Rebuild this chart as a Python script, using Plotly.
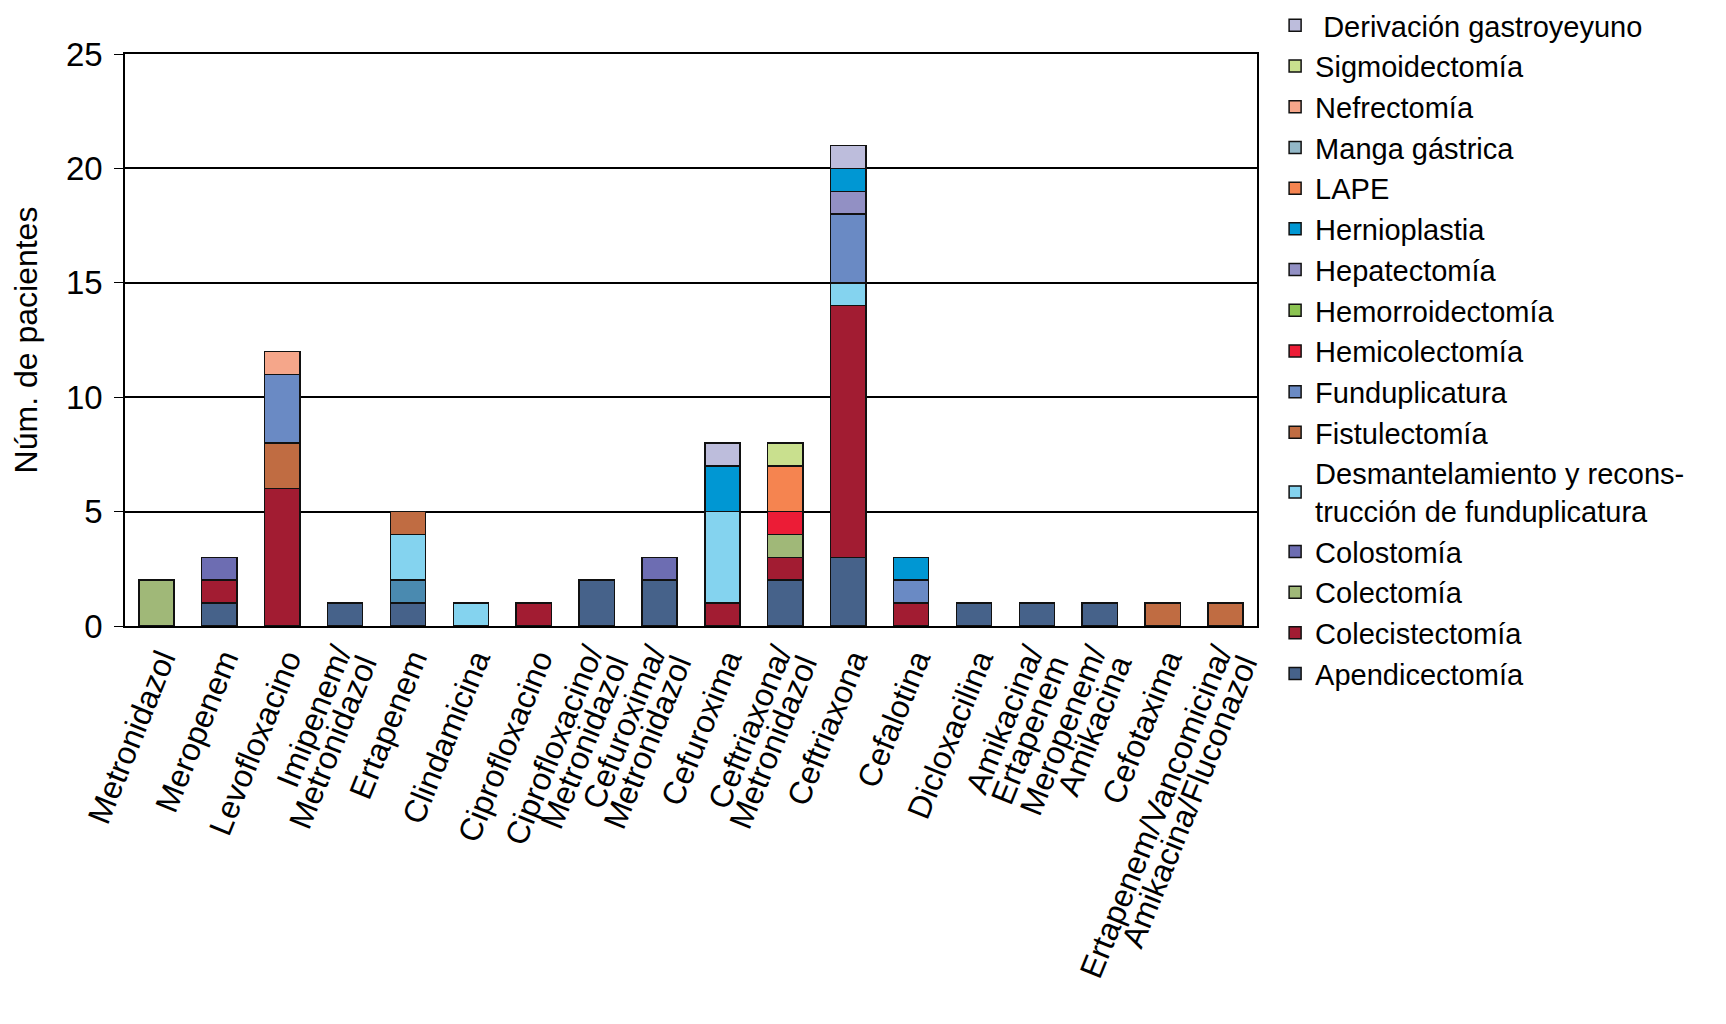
import plotly.graph_objects as go

categories = [
    "Metronidazol", "Meropenem", "Levofloxacino", "Imipenem/<br>Metronidazol",
    "Ertapenem", "Clindamicina", "Ciprofloxacino", "Ciprofloxacino/<br>Metronidazol",
    "Cefuroxima/<br>Metronidazol", "Cefuroxima", "Ceftriaxona/<br>Metronidazol",
    "Ceftriaxona", "Cefalotina", "Dicloxacilina", "Amikacina/<br>Ertapenem",
    "Meropenem/<br>Amikacina", "Cefotaxima",
    "Ertapenem/Vancomicina/<br>Amikacina/Fluconazol",
]

# values per procedure, one per category (order above)
apendicectomia     = [0, 1, 0, 1, 1, 0, 0, 2, 2, 0, 2, 3, 0, 1, 1, 1, 0, 0]
colecistectomia    = [0, 1, 6, 0, 0, 0, 1, 0, 0, 1, 1, 11, 1, 0, 0, 0, 0, 0]
colectomia         = [2, 0, 0, 0, 0, 0, 0, 0, 0, 0, 1, 0, 0, 0, 0, 0, 0, 0]
colostomia         = [0, 1, 0, 0, 0, 0, 0, 0, 1, 0, 0, 0, 0, 0, 0, 0, 0, 0]
manga_gastrica     = [0, 0, 0, 0, 1, 0, 0, 0, 0, 0, 0, 0, 0, 0, 0, 0, 0, 0]
desmantelamiento   = [0, 0, 0, 0, 2, 1, 0, 0, 0, 4, 0, 1, 0, 0, 0, 0, 0, 0]
fistulectomia      = [0, 0, 2, 0, 1, 0, 0, 0, 0, 0, 0, 0, 0, 0, 0, 0, 1, 1]
funduplicatura     = [0, 0, 3, 0, 0, 0, 0, 0, 0, 0, 0, 3, 1, 0, 0, 0, 0, 0]
hemicolectomia     = [0, 0, 0, 0, 0, 0, 0, 0, 0, 0, 1, 0, 0, 0, 0, 0, 0, 0]
hemorroidectomia   = [0, 0, 0, 0, 0, 0, 0, 0, 0, 0, 0, 0, 0, 0, 0, 0, 0, 0]
hepatectomia       = [0, 0, 0, 0, 0, 0, 0, 0, 0, 0, 0, 1, 0, 0, 0, 0, 0, 0]
hernioplastia      = [0, 0, 0, 0, 0, 0, 0, 0, 0, 2, 0, 1, 1, 0, 0, 0, 0, 0]
lape               = [0, 0, 0, 0, 0, 0, 0, 0, 0, 0, 2, 0, 0, 0, 0, 0, 0, 0]
nefrectomia        = [0, 0, 1, 0, 0, 0, 0, 0, 0, 0, 0, 0, 0, 0, 0, 0, 0, 0]
sigmoidectomia     = [0, 0, 0, 0, 0, 0, 0, 0, 0, 0, 1, 0, 0, 0, 0, 0, 0, 0]
derivacion         = [0, 0, 0, 0, 0, 0, 0, 0, 0, 1, 0, 1, 0, 0, 0, 0, 0, 0]

# (legend label, values, colour, legend rank) in stacking order (bottom -> top)
series = [
    ("Apendicectomía", apendicectomia, "#46628a", 16),
    ("Colecistectomía", colecistectomia, "#a21c32", 15),
    ("Colectomía", colectomia, "#a0b878", 14),
    ("Colostomía", colostomia, "#6d6db2", 13),
    ("Manga gástrica", manga_gastrica, "#93b8c8", 4),
    ("Desmantelamiento y recons-<br>trucción de funduplicatura", desmantelamiento, "#84d3ef", 12),
    ("Fistulectomía", fistulectomia, "#c06c42", 11),
    ("Funduplicatura", funduplicatura, "#6a8ac4", 10),
    ("Hemicolectomía", hemicolectomia, "#ec1c36", 9),
    ("Hemorroidectomía", hemorroidectomia, "#8cc452", 8),
    ("Hepatectomía", hepatectomia, "#9290c4", 7),
    ("Hernioplastia", hernioplastia, "#0097d3", 6),
    ("LAPE", lape, "#f58450", 5),
    ("Nefrectomía", nefrectomia, "#f5a68a", 3),
    ("Sigmoidectomía", sigmoidectomia, "#c9e08e", 2),
    ("\u00a0Derivación gastroyeyuno", derivacion, "#bdbddc", 1),
]

FONT = "Liberation Sans, Arial, Helvetica, sans-serif"
TICK_PX = 32        # visible size of category labels
TICK_LINE_PX = 21   # base size -> tight line spacing for two-line labels

M_L, M_R, M_T, M_B = 117, 477, 46, 406
PLOT_H = 1024 - M_T - M_B


def tick_text(label):
    return "<br>".join(
        f'<span style="font-size:{TICK_PX}px">{part}</span>' for part in label.split("<br>")
    )


fig = go.Figure()
for name, vals, color, rank in series:
    colors = [color] * len(categories)
    if name == "Manga gástrica":
        colors = [color if v == 0 else "#4a8ab0" for v in vals]
    fig.add_trace(go.Bar(
        x=categories, y=vals, name=name,
        marker=dict(color=colors, line=dict(color="#111111", width=1.5)),
        legendrank=rank, legendgroup=name, width=0.56,
    ))

fig.update_layout(
    barmode="stack",
    width=1726, height=1024,
    margin=dict(l=M_L, r=M_R, t=M_T, b=M_B, autoexpand=False),
    paper_bgcolor="white", plot_bgcolor="white",
    font=dict(family=FONT, color="#000000", size=28),
    showlegend=True,
    legend=dict(
        x=1.016, y=1 + (M_T + 8) / PLOT_H, xanchor="left", yanchor="top",
        traceorder="grouped", tracegroupgap=0, maxheight=1000,
        font=dict(family=FONT, size=29, color="#000000"),
        bgcolor="rgba(0,0,0,0)",
    ),
    xaxis=dict(
        tickangle=-68, tickfont=dict(size=TICK_LINE_PX), showline=True, linecolor="#000000",
        linewidth=1.5, mirror=True, ticks="", showgrid=False,
        tickmode="array", tickvals=categories, ticktext=[tick_text(c) for c in categories],
        ticklabelstandoff=10, ticklabelshift=10,
    ),
    yaxis=dict(
        range=[0, 25], tickvals=[0, 5, 10, 15, 20, 25], ticks="outside", ticklen=9,
        tickcolor="#000000", tickfont=dict(size=33), showline=True, linecolor="#000000",
        linewidth=1.5, mirror=True, showgrid=True, gridcolor="#000000", gridwidth=1.5,
        zeroline=False, ticklabelstandoff=5,
        title=dict(text="Núm. de pacientes", font=dict(size=32), standoff=39),
    ),
)

fig.write_html("out.html")
